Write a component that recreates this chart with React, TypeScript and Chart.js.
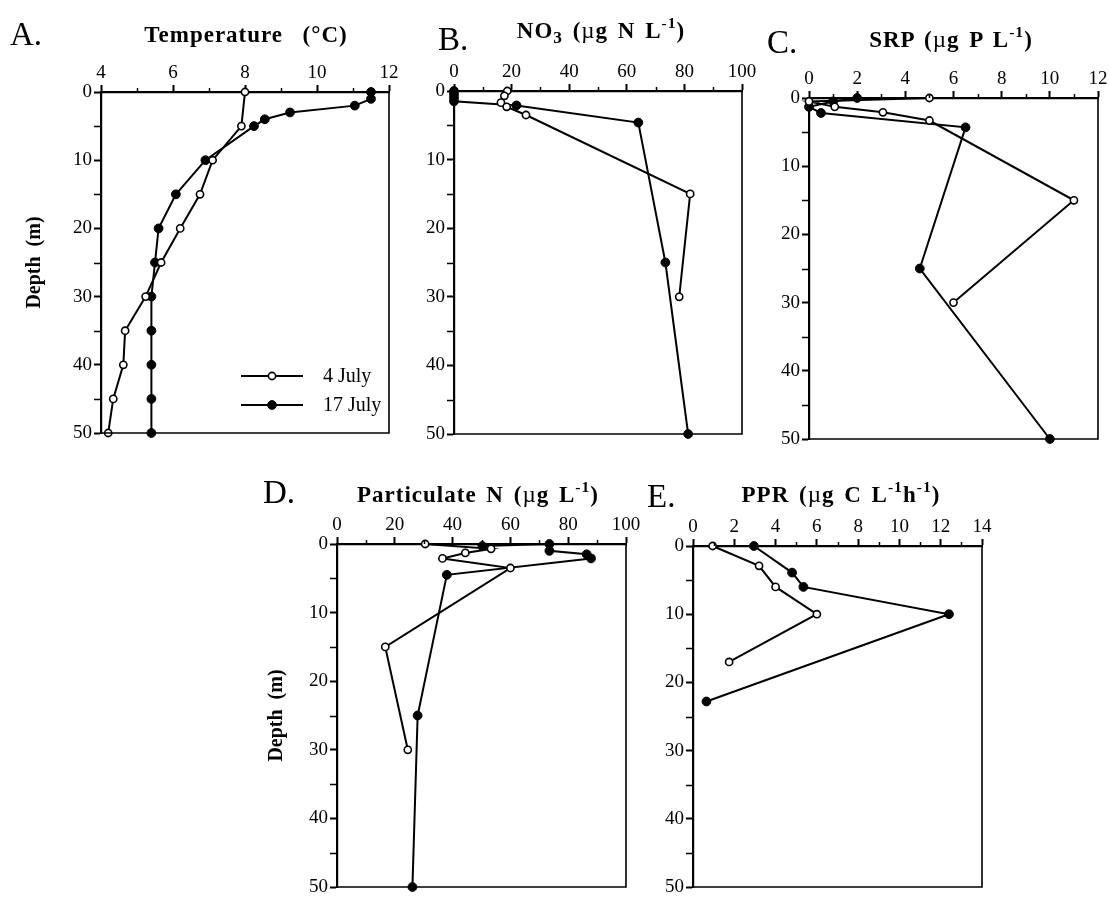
import React, { useEffect, useRef } from "react";
import { Chart, registerables } from "chart.js";
Chart.register(...registerables);

// ---------- data ----------
const SERIES = ["4 July", "17 July"];
const depthTicks = [0, 10, 20, 30, 40, 50];

// A. Temperature (°C)
const depthA_jul4 = [0, 5, 10, 15, 20, 25, 30, 35, 40, 45, 50];
const tempA_jul4 = [8.0, 7.9, 7.1, 6.75, 6.2, 5.67, 5.24, 4.67, 4.62, 4.34, 4.2];
const depthA_jul17 = [0, 1, 2, 3, 4, 5, 10, 15, 20, 25, 30, 35, 40, 45, 50];
const tempA_jul17 = [11.5, 11.5, 11.05, 9.25, 8.55, 8.25, 6.9, 6.08, 5.6, 5.5, 5.4, 5.4, 5.4, 5.4, 5.4];
const ticksA = [4, 6, 8, 10, 12];

// B. NO3 (µg N L-1)
const depthB_jul4 = [0, 0.7, 1.7, 2.3, 3.5, 15, 30];
const no3B_jul4 = [18.5, 17.5, 16.3, 18.3, 25, 82, 78.2];
const depthB_jul17 = [0, 0.5, 1, 1.5, 2.1, 4.6, 25, 50];
const no3B_jul17 = [0, 0, 0, 0, 21.7, 64, 73.4, 81.3];
const ticksB = [0, 20, 40, 60, 80, 100];

// C. SRP (µg P L-1)
const depthC_jul4 = [0, 0.5, 1.3, 2.1, 3.3, 15, 30];
const srpC_jul4 = [5, 0, 1.07, 3.07, 5, 11, 6];
const depthC_jul17 = [0, 0.5, 1.3, 2.2, 4.3, 25, 50];
const srpC_jul17 = [2, 1, 0, 0.5, 6.5, 4.6, 10];
const ticksC = [0, 2, 4, 6, 8, 10, 12];

// D. Particulate N (µg L-1)
const depthD_jul4 = [0, 0.7, 1.3, 2.1, 3.5, 15, 30];
const pnD_jul4 = [30.5, 53.3, 44.4, 36.5, 60, 16.7, 24.5];
const depthD_jul17 = [0.3, 0, 1, 1.5, 2.1, 4.5, 25, 50];
const pnD_jul17 = [50.3, 73.5, 73.5, 86.4, 87.9, 38, 27.9, 26.1];
const ticksD = [0, 20, 40, 60, 80, 100];

// E. PPR (µg C L-1 h-1)
const depthE_jul4 = [0, 2.9, 6, 10, 17];
const pprE_jul4 = [0.95, 3.2, 4, 6, 1.75];
const depthE_jul17 = [0, 3.9, 6, 10, 22.8];
const pprE_jul17 = [2.95, 4.8, 5.35, 12.4, 0.65];
const ticksE = [0, 2, 4, 6, 8, 10, 12, 14];

// ---------- layout / style ----------
const SERIF = '"Liberation Serif", "Times New Roman", Times, serif';
const X_H = 40;
const PAD_R = 24;
const PAD_B = 16;

const sup = (t: string) => (
  <span style={{ fontSize: "0.68em", position: "relative", top: "-0.62em" }}>{t}</span>
);
const sub = (t: string) => (
  <span style={{ fontSize: "0.75em", position: "relative", top: "0.3em" }}>{t}</span>
);
const mu = <span style={{ fontWeight: "normal" }}>µ</span>;

type Panel = {
  key: string;
  letter: string;
  letterX: number;
  letterBase: number;
  title: React.ReactNode;
  titleCX: number;
  titleBase: number;
  xTicks: number[];
  xMinor: number;
  v4: number[];
  d4: number[];
  v17: number[];
  d17: number[];
  plot: [number, number, number, number];
  yW: number;
  yTitle: boolean;
  legend: boolean;
};

const PANELS: Panel[] = [
  {
    key: "A", letter: "A.", letterX: 10, letterBase: 45,
    title: <>Temperature&nbsp;&nbsp;(°C)</>, titleCX: 246, titleBase: 42,
    xTicks: ticksA, xMinor: 1, v4: tempA_jul4, d4: depthA_jul4, v17: tempA_jul17, d17: depthA_jul17,
    plot: [101, 92, 389, 433], yW: 78, yTitle: true, legend: true,
  },
  {
    key: "B", letter: "B.", letterX: 438, letterBase: 50,
    title: <>NO{sub("3")} ({mu}g N L{sup("-1")})</>, titleCX: 601, titleBase: 38,
    xTicks: ticksB, xMinor: 10, v4: no3B_jul4, d4: depthB_jul4, v17: no3B_jul17, d17: depthB_jul17,
    plot: [454, 91, 742, 434], yW: 50, yTitle: false, legend: false,
  },
  {
    key: "C", letter: "C.", letterX: 767, letterBase: 53,
    title: <>SRP ({mu}g P L{sup("-1")})</>, titleCX: 951, titleBase: 47,
    xTicks: ticksC, xMinor: 1, v4: srpC_jul4, d4: depthC_jul4, v17: srpC_jul17, d17: depthC_jul17,
    plot: [809, 98, 1098, 439], yW: 50, yTitle: false, legend: false,
  },
  {
    key: "D", letter: "D.", letterX: 263, letterBase: 503,
    title: <>Particulate N ({mu}g L{sup("-1")})</>, titleCX: 478, titleBase: 502,
    xTicks: ticksD, xMinor: 10, v4: pnD_jul4, d4: depthD_jul4, v17: pnD_jul17, d17: depthD_jul17,
    plot: [337, 544, 626, 887], yW: 72, yTitle: true, legend: false,
  },
  {
    key: "E", letter: "E.", letterX: 647, letterBase: 507,
    title: <>PPR ({mu}g C L{sup("-1")}h{sup("-1")})</>, titleCX: 841, titleBase: 502,
    xTicks: ticksE, xMinor: 1, v4: pprE_jul4, d4: depthE_jul4, v17: pprE_jul17, d17: depthE_jul17,
    plot: [693, 546, 982, 887], yW: 50, yTitle: false, legend: false,
  },
];

// frame (right / bottom) + minor ticks
const framePlugin = {
  id: "frameMinor",
  afterDraw(chart: any, _args: any, opts: any) {
    const { ctx, chartArea } = chart;
    const { left, top, right, bottom } = chartArea;
    const xs = chart.scales.x;
    const ys = chart.scales.y;
    ctx.save();
    ctx.strokeStyle = "#000";
    ctx.lineWidth = 1.6;
    ctx.beginPath();
    ctx.moveTo(right, top);
    ctx.lineTo(right, bottom);
    ctx.lineTo(left - 1, bottom);
    ctx.stroke();
    ctx.lineWidth = 1.5;
    ctx.beginPath();
    const major: number[] = opts.xTicks;
    for (let v = xs.min; v <= xs.max + 1e-9; v += opts.xMinor) {
      if (major.some((m) => Math.abs(m - v) < 1e-9)) continue;
      const px = Math.round(xs.getPixelForValue(v)) + 0.5;
      ctx.moveTo(px, top);
      ctx.lineTo(px, top - 4);
    }
    for (let v = 5; v < 50; v += 10) {
      const py = Math.round(ys.getPixelForValue(v)) + 0.5;
      ctx.moveTo(left, py);
      ctx.lineTo(left - 7, py);
    }
    ctx.stroke();
    ctx.restore();
  },
};

const legendPlugin = {
  id: "inlineLegend",
  afterDraw(chart: any, _args: any, opts: any) {
    if (!opts || !opts.show) return;
    const { ctx, chartArea } = chart;
    ctx.save();
    chart.data.datasets.forEach((d: any, i: number) => {
      const y = chartArea.top + opts.y0 + i * opts.dy;
      const x0 = chartArea.left + opts.x0;
      ctx.strokeStyle = "#000";
      ctx.lineWidth = 2;
      ctx.beginPath();
      ctx.moveTo(x0, y);
      ctx.lineTo(x0 + opts.len, y);
      ctx.stroke();
      ctx.beginPath();
      ctx.arc(x0 + opts.len / 2, y, d.pointRadius, 0, Math.PI * 2);
      ctx.fillStyle = d.pointBackgroundColor;
      ctx.fill();
      ctx.lineWidth = d.pointBorderWidth;
      ctx.strokeStyle = d.pointBorderColor;
      ctx.stroke();
      ctx.fillStyle = "#000";
      ctx.font = `20px ${SERIF}`;
      ctx.textBaseline = "middle";
      ctx.textAlign = "left";
      ctx.fillText(d.label, x0 + opts.len + opts.gap, y + 1);
    });
    ctx.restore();
  },
};

function PanelChart({ p }: { p: Panel }) {
  const ref = useRef<HTMLCanvasElement>(null);
  const [L, T, R, B] = p.plot;
  const w = p.yW + (R - L) + PAD_R;
  const h = X_H + (B - T) + PAD_B;

  useEffect(() => {
    if (!ref.current) return;
    const pts = (vals: number[], depths: number[]) => vals.map((v, i) => ({ x: v, y: depths[i] }));
    const chart = new Chart(ref.current, {
      type: "scatter",
      data: {
        datasets: [
          {
            label: SERIES[0], data: pts(p.v4, p.d4), showLine: true, clip: false as any,
            borderColor: "#000", borderWidth: 2,
            pointRadius: 3.6, pointBackgroundColor: "#fff", pointBorderColor: "#000", pointBorderWidth: 1.6,
          },
          {
            label: SERIES[1], data: pts(p.v17, p.d17), showLine: true, clip: false as any,
            borderColor: "#000", borderWidth: 2,
            pointRadius: 4.4, pointBackgroundColor: "#000", pointBorderColor: "#000", pointBorderWidth: 1,
          },
        ],
      },
      options: {
        animation: false,
        responsive: false,
        maintainAspectRatio: false,
        layout: { padding: { left: 0, top: 0, right: PAD_R, bottom: PAD_B } },
        plugins: {
          legend: { display: false },
          tooltip: { enabled: false },
          frameMinor: { xTicks: p.xTicks, xMinor: p.xMinor },
          inlineLegend: { show: p.legend, x0: 140, len: 62, gap: 20, y0: 284, dy: 29 },
        } as any,
        scales: {
          x: {
            type: "linear",
            position: "top",
            min: p.xTicks[0],
            max: p.xTicks[p.xTicks.length - 1],
            afterBuildTicks: (s: any) => { s.ticks = p.xTicks.map((v) => ({ value: v })); },
            afterFit: (s: any) => { s.height = X_H; },
            ticks: {
              autoSkip: false, maxRotation: 0, padding: 1, color: "#000",
              font: { family: SERIF, size: 19 },
            },
            grid: { drawOnChartArea: false, drawTicks: true, tickLength: 7, tickColor: "#000", tickWidth: 2 },
            border: { display: true, color: "#000", width: 2.2 },
          },
          y: {
            type: "linear",
            position: "left",
            reverse: true,
            min: 0,
            max: 50,
            afterBuildTicks: (s: any) => { s.ticks = depthTicks.map((v) => ({ value: v })); },
            afterFit: (s: any) => { s.width = p.yW; },
            ticks: {
              autoSkip: false, padding: 2, color: "#000",
              font: { family: SERIF, size: 19 },
            },
            title: {
              display: p.yTitle, text: "Depth  (m)", color: "#000",
              font: { family: SERIF, size: 20, weight: "bold" }, padding: 0,
            },
            grid: { drawOnChartArea: false, drawTicks: true, tickLength: 7, tickColor: "#000", tickWidth: 2 },
            border: { display: true, color: "#000", width: 2.2 },
          },
        },
      } as any,
      plugins: [framePlugin, legendPlugin],
    });
    return () => chart.destroy();
  }, []);

  return (
    <>
      <canvas
        ref={ref}
        width={w}
        height={h}
        style={{ position: "absolute", left: L - p.yW, top: T - X_H, width: w, height: h }}
      />
      <div
        style={{
          position: "absolute", left: p.letterX, top: p.letterBase - 29.4,
          fontFamily: SERIF, fontSize: 33, lineHeight: "normal", whiteSpace: "nowrap", color: "#000",
        }}
      >
        {p.letter}
      </div>
      <div
        style={{
          position: "absolute", left: p.titleCX, top: p.titleBase - 20.5, transform: "translateX(-50%)",
          fontFamily: SERIF, fontSize: 23, fontWeight: "bold", letterSpacing: 1, wordSpacing: 3,
          lineHeight: "normal", whiteSpace: "nowrap", color: "#000",
        }}
      >
        {p.title}
      </div>
    </>
  );
}

export default function App() {
  return (
    <div style={{ position: "absolute", left: 0, top: 0, width: 1109, height: 897, background: "#fff", overflow: "hidden" }}>
      {PANELS.map((p) => (
        <PanelChart key={p.key} p={p} />
      ))}
    </div>
  );
}
